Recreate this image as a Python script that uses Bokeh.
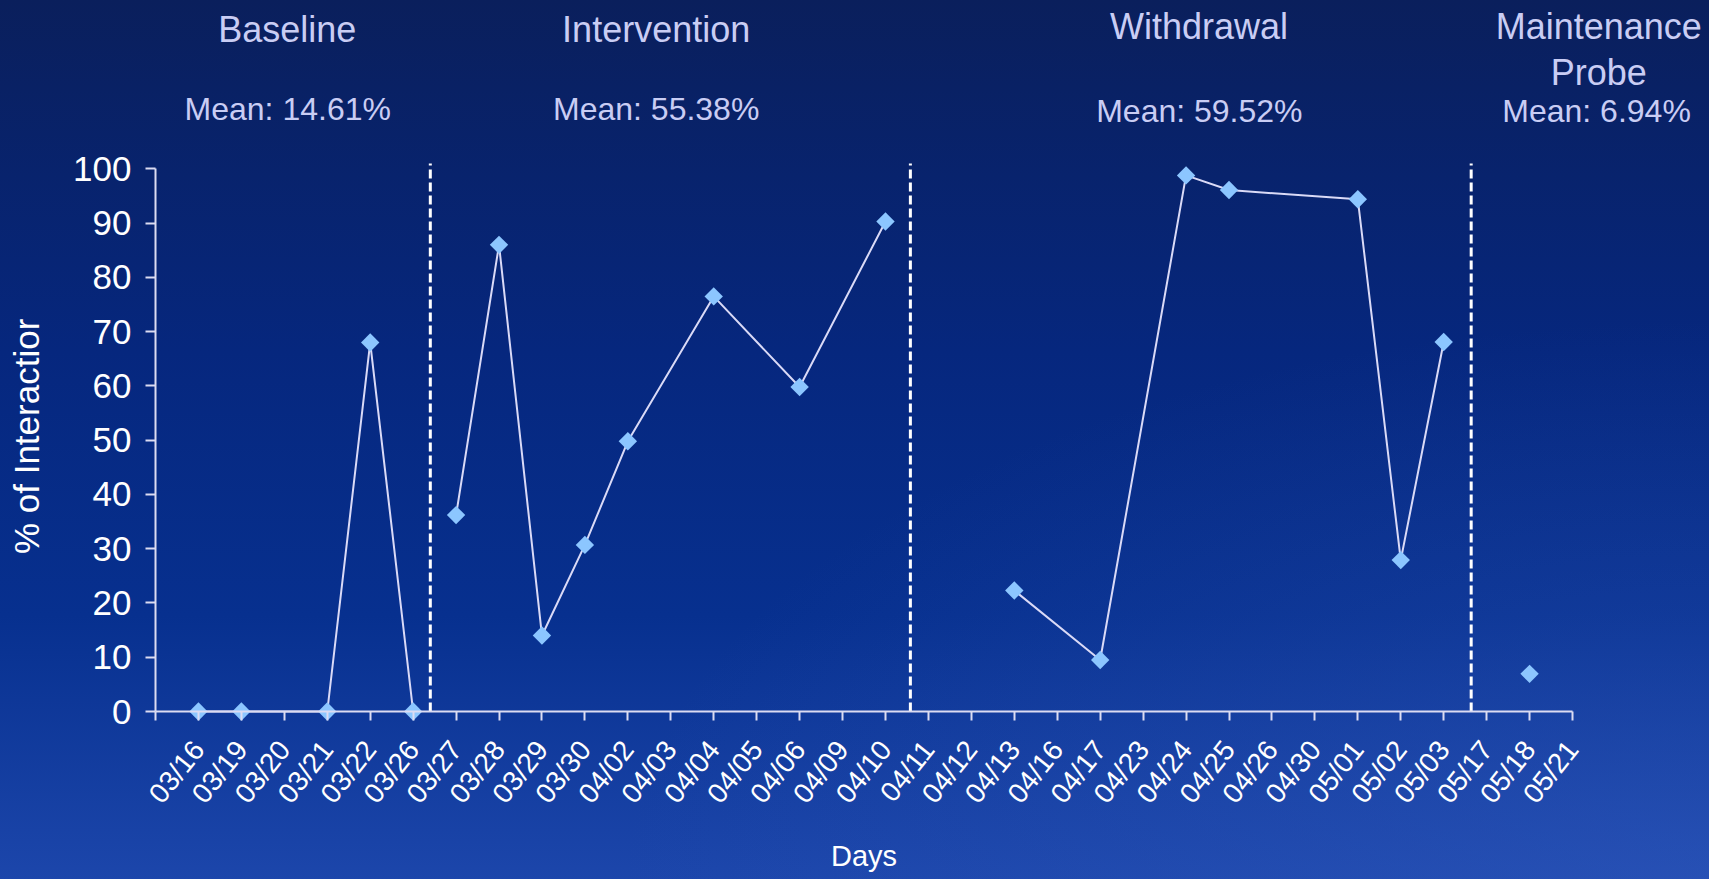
import math
from bokeh.plotting import figure
from bokeh.models import Range1d, FixedTicker, Label, GlobalInlineStyleSheet
from bokeh.embed import file_html
from bokeh.resources import INLINE

# ---------------- data ----------------
dates = ["03/16", "03/19", "03/20", "03/21", "03/22", "03/26", "03/27", "03/28", "03/29",
         "03/30", "04/02", "04/03", "04/04", "04/05", "04/06", "04/09", "04/10", "04/11",
         "04/12", "04/13", "04/16", "04/17", "04/23", "04/24", "04/25", "04/26", "04/30",
         "05/01", "05/02", "05/03", "05/17", "05/18", "05/21"]
pct = [0, 0, None, 0, 68, 0, 36.2, 86, 14, 30.7, 49.8, None, 76.5, None, 59.8, None, 90.3,
       None, None, 22.3, None, 9.5, None, 98.8, 96.1, None, None, 94.4, 27.9, 68.1,
       None, 6.94, None]
phase_names = ["Baseline", "Intervention", "Withdrawal", "Maintenance Probe"]
phase_means = [14.61, 55.38, 59.52, 6.94]
phase_first = ["03/16", "03/27", "04/11", "05/17"]
y_ticks = [0, 10, 20, 30, 40, 50, 60, 70, 80, 90, 100]

# ---------------- styling ----------------
FONT = "Liberation Sans"
TITLE_COLOR = "#c9cdf4"
AXIS_COLOR = "#dcdcf2"
LINE_COLOR = "#dadaf7"
MARKER_COLOR = "#8cc6ff"

W, H = 1705, 875
PX_X = 42.94          # pixels per category step
PX_Y = 5.426          # pixels per percent
LEFT, BOTTOM = 155, 711   # pixel position of the axes origin
p = figure(width=W, height=H, output_backend="svg", toolbar_location=None,
           x_range=Range1d(-LEFT / PX_X, (W - LEFT) / PX_X),
           y_range=Range1d(-(H - BOTTOM) / PX_Y, BOTTOM / PX_Y),
           min_border=0, min_border_left=0, min_border_right=0,
           min_border_top=0, min_border_bottom=0)
p.background_fill_alpha = 0
p.border_fill_alpha = 0
p.outline_line_color = None
p.grid.visible = False

css = """
html { min-height: 100%;
  background: radial-gradient(ellipse at 100% 100%, rgba(60,100,200,0.35) 0%, rgba(60,100,200,0) 45%),
              linear-gradient(180deg, #0a1f5c 0%, #06277e 40%, #07308f 70%, #1c46ab 100%);
  background-attachment: fixed; }
body { background: transparent; }
"""
p.stylesheets = [GlobalInlineStyleSheet(css=css)]

# x axis
xa = p.xaxis[0]
xa.fixed_location = 0
xa.ticker = FixedTicker(ticks=list(range(0, len(dates) + 1)))
xa.bounds = (0, len(dates))
xa.major_label_overrides = {0: ""} | {i + 1: d for i, d in enumerate(dates)}
xa.major_label_orientation = 0.9
xa.major_label_text_font = FONT
xa.major_label_text_font_size = "28px"
xa.major_label_text_color = "white"
xa.major_label_standoff = 24
xa.major_tick_out = 9
xa.major_tick_in = 0
xa.minor_tick_line_color = None
xa.axis_line_color = AXIS_COLOR
xa.axis_line_width = 2
xa.major_tick_line_color = AXIS_COLOR
xa.major_tick_line_width = 2

# y axis
ya = p.yaxis[0]
ya.fixed_location = 0
ya.ticker = FixedTicker(ticks=y_ticks)
ya.bounds = (0, 100)
ya.major_label_text_font = FONT
ya.major_label_text_font_size = "35px"
ya.major_label_text_color = "white"
ya.major_label_standoff = 14
ya.major_tick_out = 10
ya.major_tick_in = 0
ya.minor_tick_line_color = None
ya.axis_line_color = AXIS_COLOR
ya.axis_line_width = 2
ya.major_tick_line_color = AXIS_COLOR
ya.major_tick_line_width = 2

# phase boundary dashed lines
bx = [6.4, 17.58, 30.64]
p.segment(x0=bx, y0=[0] * 3, x1=bx, y1=[101] * 3, line_color="white",
          line_dash="9 4", line_width=3)

# lines per phase (connecting available points)
starts = [dates.index(d) for d in phase_first] + [len(dates)]
for k in range(len(phase_first)):
    xs, ys = [], []
    for i in range(starts[k], starts[k + 1]):
        if pct[i] is not None:
            xs.append(i + 1)
            ys.append(pct[i])
    if len(xs) > 1:
        p.line(xs, ys, line_color=LINE_COLOR, line_width=2)

mx = [i + 1 for i, v in enumerate(pct) if v is not None]
my = [v for v in pct if v is not None]
p.scatter(mx, my, marker="square", angle=math.pi / 4, size=13,
          fill_color=MARKER_COLOR, line_color=None)

# phase titles and means
title_x = [3.07, 11.66, 24.30, 33.61]
title_y = [125.7, 125.7, 126.2, 126.2]
mean_x = [3.08, 11.66, 24.31, 33.56]
mean_y = [111.1, 111.1, 110.6, 110.6]
for k, name in enumerate(phase_names):
    lines = ["Maintenance", "Probe"] if name == "Maintenance Probe" else [name]
    for j, t in enumerate(lines):
        p.add_layout(Label(x=title_x[k], y=title_y[k] - j * 8.4, text=t,
                           text_align="center", text_baseline="middle",
                           text_font=FONT, text_font_size="36px",
                           text_color=TITLE_COLOR))
    p.add_layout(Label(x=mean_x[k], y=mean_y[k], text=f"Mean: {phase_means[k]:.2f}%",
                       text_align="center", text_baseline="middle",
                       text_font=FONT, text_font_size="32px", text_color=TITLE_COLOR))

# axis titles
p.add_layout(Label(x=-3.0, y=50.7, text="% of Interactior", angle=math.pi / 2,
                   text_align="center", text_baseline="middle", text_font=FONT,
                   text_font_size="35px", text_color="white"))
p.add_layout(Label(x=16.5, y=-26.6, text="Days", text_align="center",
                   text_baseline="middle", text_font=FONT, text_font_size="29px",
                   text_color="white"))

open("out.html", "w").write(file_html(p, INLINE))
